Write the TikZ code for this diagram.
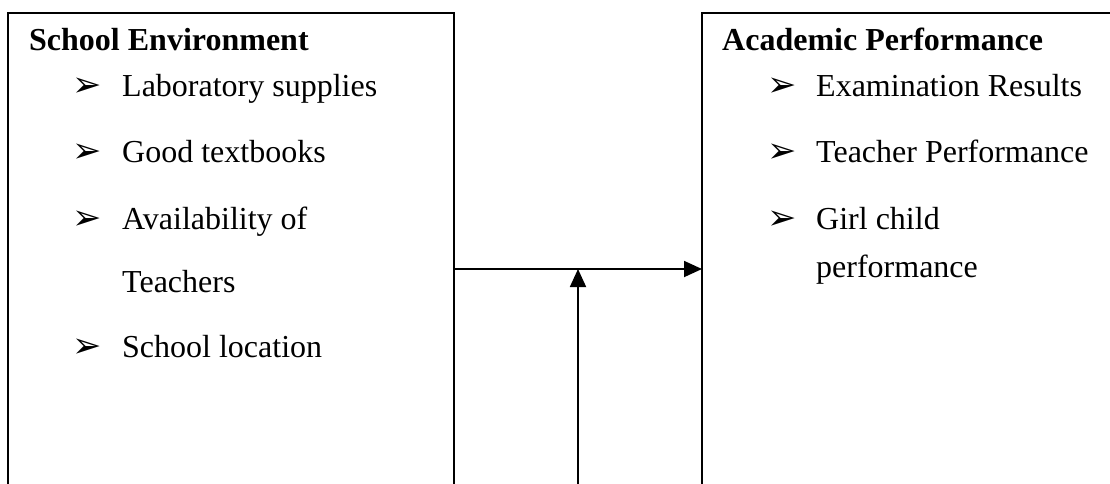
\documentclass[tikz,border=0pt]{standalone}
\usepackage{fontspec}
\setmainfont{Liberation Serif}
\newfontfamily\dingfont{DejaVu Sans}
\usetikzlibrary{positioning,arrows.meta}
\newcommand*{\itembullet}{{\dingfont\fontsize{35}{35}\selectfont ➢}}
\tikzset{framebox/.style={draw=black, line width=1.8pt, inner sep=0pt, outer sep=0pt, anchor=north west},
heading/.style={anchor=base west, inner sep=0pt, font=\fontsize{32}{38}\selectfont\bfseries},
bullet/.style={anchor=base west, inner sep=0pt},
entry/.style={anchor=base west, inner sep=0pt, font=\fontsize{32}{38}\selectfont},
link/.style={line width=1.8pt, -{Triangle[length=18pt,width=16pt]}}}
\begin{document}
\begin{tikzpicture}[x=1pt,y=-1pt]
		\useasboundingbox (0,0) rectangle (1110,483);
		\clip (0,0) rectangle (1110,483);
		% boxes run past the lower edge
		\node[framebox, minimum width=446pt, minimum height=520pt] (envbox) at (8,13) {};
		\node[framebox, minimum width=460pt, minimum height=520pt] (perfbox) at (702,13) {};
		\node[heading] (envtitle) at (29,50) {School Environment};
		\node[heading] (perftitle) at (722,50) {Academic Performance};
		\foreach \txt/\yy [count=\i] in {Laboratory supplies/96,Good textbooks/162,Availability of/229,School location/357}
		{
			\node[bullet] (envmark\i) at (72,\yy) {\itembullet};
			\node[entry] (envitem\i) at (122,\yy) {\txt};
		}
		\node[entry] (envmore) at (122,292) {Teachers};
		\foreach \txt/\yy [count=\i] in {Examination Results/96,Teacher Performance/162,Girl child/229}
		{
			\node[bullet] (perfmark\i) at (767,\yy) {\itembullet};
			\node[entry] (perfitem\i) at (816,\yy) {\txt};
		}
		\node[entry] (perfmore) at (816,277) {performance};
		% connectors
		\coordinate (join) at (578,269);
		\coordinate (feed) at (578,500);
		\draw[link] (envbox.east |- join) -- (perfbox.west |- join);
		\draw[link] (feed) -- (join);
	\end{tikzpicture}
\end{document}
